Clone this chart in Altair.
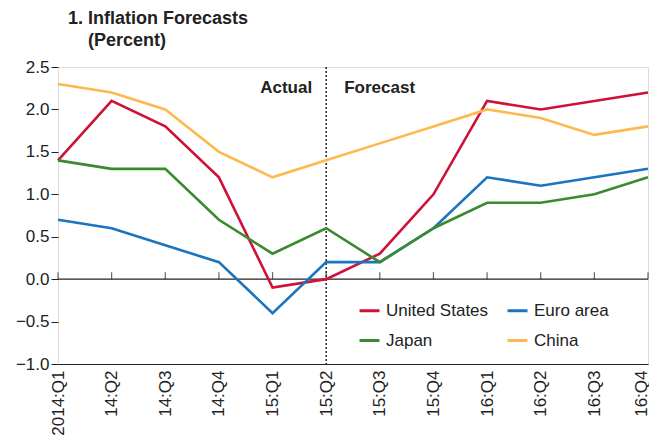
import altair as alt
import pandas as pd

quarters = ["2014:Q1", "14:Q2", "14:Q3", "14:Q4", "15:Q1", "15:Q2",
            "15:Q3", "15:Q4", "16:Q1", "16:Q2", "16:Q3", "16:Q4"]
series_names = ["United States", "Euro area", "Japan", "China"]
us = [1.4, 2.1, 1.8, 1.2, -0.1, 0.0, 0.3, 1.0, 2.1, 2.0, 2.1, 2.2]
euro = [0.7, 0.6, 0.4, 0.2, -0.4, 0.2, 0.2, 0.6, 1.2, 1.1, 1.2, 1.3]
japan = [1.4, 1.3, 1.3, 0.7, 0.3, 0.6, 0.2, 0.6, 0.9, 0.9, 1.0, 1.2]
china = [2.3, 2.2, 2.0, 1.5, 1.2, 1.4, 1.6, 1.8, 2.0, 1.9, 1.7, 1.8]
colors = ["#CE1139", "#1A74BF", "#3A8A30", "#FDB94D"]
y_ticks = [-1.0, -0.5, 0.0, 0.5, 1.0, 1.5, 2.0, 2.5]
divider_quarter = "15:Q2"
annot_y = 2.25

rows = []
for name, vals in zip(series_names, [us, euro, japan, china]):
    for q, v in zip(quarters, vals):
        rows.append({"quarter": q, "value": v, "series": name})
df = pd.DataFrame(rows)
qdf = pd.DataFrame({"quarter": quarters})

FONT = "Liberation Sans, Arial, sans-serif"
TXT = "#222"

xscale = alt.Scale(type="point", padding=0, domain=quarters)
yscale = alt.Scale(domain=[-1.0, 2.5], nice=False, zero=False)


def xenc():
    return alt.X("quarter:O", scale=xscale, sort=quarters, title=None)


zero_rule = alt.Chart(pd.DataFrame({"y": [0.0]})).mark_rule(color=TXT, strokeWidth=1.2).encode(
    y=alt.Y("y:Q", scale=yscale, title=None)
)

zero_ticks = alt.Chart(qdf).mark_tick(orient="vertical", size=7, thickness=1.2,
                                      color=TXT, yOffset=-3.5).encode(
    x=xenc(),
    y=alt.datum(0.0, type="quantitative"),
)

divider = alt.Chart(pd.DataFrame({"quarter": [divider_quarter], "top": [y_ticks[-1]],
                                  "bottom": [y_ticks[0]]})).mark_rule(
    color=TXT, strokeDash=[2, 2], strokeWidth=1.5).encode(
    x=xenc(),
    y=alt.Y("top:Q", scale=yscale, title=None),
    y2="bottom:Q",
)

last_q = quarters[-1]
lines = alt.Chart(df).mark_line(strokeWidth=2.6).encode(
    x=alt.X("quarter:O", scale=xscale, sort=quarters,
            axis=alt.Axis(title=None, orient="bottom", labelAngle=-90, ticks=False,
                          domain=True, domainColor=TXT, domainWidth=1.2,
                          labelFontSize=17, labelFont=FONT, labelColor=TXT,
                          labelPadding=6, labelAlign="right", labelBaseline="middle",
                          labelOffset={"condition": {"test": f"datum.value === '{last_q}'",
                                                     "value": -7}, "value": 0})),
    y=alt.Y("value:Q", scale=yscale,
            axis=alt.Axis(title=None, orient="left", values=y_ticks, format=".1f",
                          labelExpr="replace(datum.label, '-', '\u2212')",
                          domain=False, grid=False, ticks=True, tickSize=7,
                          tickColor=TXT, labelFontSize=17, labelFont=FONT,
                          labelColor=TXT, labelPadding=2)),
    color=alt.Color("series:N", sort=series_names,
                    scale=alt.Scale(domain=series_names, range=colors),
                    legend=alt.Legend(title=None, orient="none", legendX=300, legendY=232,
                                      columns=2, direction="horizontal",
                                      columnPadding=12, rowPadding=10,
                                      symbolType="stroke", symbolSize=400,
                                      symbolStrokeWidth=3, labelFontSize=17,
                                      labelFont=FONT, labelColor=TXT,
                                      labelOffset=5, labelLimit=300, padding=0)),
)

annot = pd.DataFrame({"quarter": [divider_quarter], "y": [annot_y]})
actual_txt = alt.Chart(annot).mark_text(text="Actual", align="right", baseline="middle",
                                        dx=-14, fontSize=17, fontWeight="bold",
                                        font=FONT, color=TXT).encode(
    x=xenc(),
    y=alt.Y("y:Q", scale=yscale, title=None),
)
forecast_txt = alt.Chart(annot).mark_text(text="Forecast", align="left", baseline="middle",
                                          dx=18, fontSize=17, fontWeight="bold",
                                          font=FONT, color=TXT).encode(
    x=xenc(),
    y=alt.Y("y:Q", scale=yscale, title=None),
)

chart = alt.layer(
    zero_rule, zero_ticks, divider, lines, actual_txt, forecast_txt
).properties(
    width=590, height=297,
    autosize=alt.AutoSizeParams(type="none"),
    padding={"left": 50, "top": 59, "right": 1, "bottom": 74},
    title=alt.TitleParams(text=["1. Inflation Forecasts",
                                "\u200b\u00a0\u00a0\u00a0\u00a0(Percent)"],
                          anchor="start", frame="group", dx=10, offset=8,
                          fontSize=18, fontWeight="bold", font=FONT, color=TXT,
                          lineHeight=22),
).configure_view(stroke=None).configure(background="white")

chart.save("out.html", embed_options={"renderer": "svg", "actions": False})
